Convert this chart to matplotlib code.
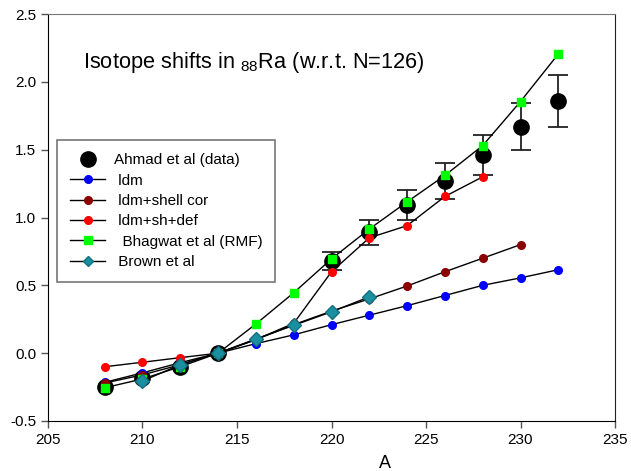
import matplotlib
matplotlib.use("Agg")
import matplotlib.pyplot as plt
from matplotlib.lines import Line2D

plt.rcParams["font.family"] = ["Liberation Sans", "DejaVu Sans"]
plt.rcParams["mathtext.fontset"] = "custom"
plt.rcParams["mathtext.rm"] = "Liberation Sans"
plt.rcParams["mathtext.it"] = "Liberation Sans"

# Ahmad et al (data)
a_data = [208, 210, 212, 214, 220, 222, 224, 226, 228, 230, 232]
y_data = [-0.25, -0.18, -0.10, 0.0, 0.68, 0.89, 1.09, 1.27, 1.46, 1.67, 1.86]
# error bars only on the heavier isotopes
a_err = [220, 222, 224, 226, 228, 230, 232]
y_err_c = [0.68, 0.89, 1.09, 1.27, 1.46, 1.67, 1.86]
err_data = [0.065, 0.095, 0.11, 0.135, 0.15, 0.175, 0.19]

# ldm
a_ldm = [208, 210, 212, 214, 216, 218, 220, 222, 224, 226, 228, 230, 232]
y_ldm = [-0.215, -0.145, -0.07, 0.0, 0.07, 0.135, 0.21, 0.28, 0.35, 0.425, 0.50, 0.555, 0.615]

# ldm+shell cor
a_shell = [208, 210, 212, 214, 216, 218, 220, 222, 224, 226, 228, 230]
y_shell = [-0.22, -0.16, -0.085, 0.0, 0.10, 0.21, 0.31, 0.40, 0.495, 0.60, 0.70, 0.80]

# ldm+sh+def
a_def = [208, 210, 212, 214, 216, 218, 220, 222, 224, 226, 228]
y_def = [-0.10, -0.067, -0.033, 0.0, 0.10, 0.22, 0.60, 0.85, 0.94, 1.155, 1.30]

# Bhagwat et al (RMF)
a_rmf = [208, 210, 212, 214, 216, 218, 220, 222, 224, 226, 228, 230, 232]
y_rmf = [-0.255, -0.19, -0.10, 0.0, 0.215, 0.445, 0.695, 0.915, 1.115, 1.31, 1.53, 1.855, 2.205]

# Brown et al
a_brown = [210, 212, 214, 216, 218, 220, 222]
y_brown = [-0.205, -0.085, 0.0, 0.105, 0.205, 0.305, 0.415]

fig = plt.figure(figsize=(6.31, 4.71), dpi=100)
ax = fig.add_axes([48 / 631, 1 - 421 / 471, 567 / 631, 407 / 471])

ax.errorbar(a_err, y_err_c, yerr=err_data, fmt="none", ecolor="#222222",
            elinewidth=1.3, capsize=7, capthick=1.3, zorder=2)
ax.plot(a_data, y_data, "o", color="black", ms=11, zorder=2)
ax.plot(a_ldm, y_ldm, "-o", color="black", lw=1, ms=5.5, mfc="#0000ff", mec="#0000ff", zorder=3)
ax.plot(a_shell, y_shell, "-o", color="black", lw=1, ms=5.5, mfc="#8b0000", mec="#8b0000", zorder=3)
ax.plot(a_def, y_def, "-o", color="black", lw=1, ms=5.5, mfc="#ff0000", mec="#ff0000", zorder=3)
ax.plot(a_rmf, y_rmf, "-s", color="black", lw=1, ms=5.5, mfc="#00ff00", mec="#00ff00", zorder=4)
ax.plot(a_brown, y_brown, "-D", color="black", lw=1, ms=7, mfc="#1a8fa0", mec="#137080", zorder=4)

ax.set_xlim(205, 235)
ax.set_ylim(-0.5, 2.5)
ax.set_xticks([205, 210, 215, 220, 225, 230, 235])
ax.set_yticks([-0.5, 0.0, 0.5, 1.0, 1.5, 2.0, 2.5])
ax.set_yticklabels(["-0.5", "0.0", "0.5", "1.0", "1.5", "2.0", "2.5"])
ax.tick_params(direction="out", length=5, width=1, color="#555555", labelsize=11)
ax.spines["top"].set_color("#777777")
ax.spines["right"].set_color("#222222")

ax.text(0.062, 0.88, "Isotope shifts in $_{88}$Ra (w.r.t. N=126)", transform=ax.transAxes,
        fontsize=15.7, va="center", ha="left")
fig.text(385 / 631, 1 - 463 / 471, "A", fontsize=13, ha="center", va="center")

handles = [
    Line2D([], [], ls="none", marker="o", color="black", ms=11),
    Line2D([], [], color="black", lw=1, marker="o", ms=5.5, mfc="#0000ff", mec="#0000ff"),
    Line2D([], [], color="black", lw=1, marker="o", ms=5.5, mfc="#8b0000", mec="#8b0000"),
    Line2D([], [], color="black", lw=1, marker="o", ms=5.5, mfc="#ff0000", mec="#ff0000"),
    Line2D([], [], color="black", lw=1, marker="s", ms=5.5, mfc="#00ff00", mec="#00ff00"),
    Line2D([], [], color="black", lw=1, marker="D", ms=5.5, mfc="#1a8fa0", mec="#137080"),
]
labels = ["Ahmad et al (data)", " ldm", " ldm+shell cor", " ldm+sh+def",
          "  Bhagwat et al (RMF)", " Brown et al"]
leg = ax.legend(handles, labels, loc="upper left", bbox_to_anchor=(0.016, 0.69),
                borderaxespad=0, fontsize=11, frameon=True, fancybox=False,
                handlelength=2.3, labelspacing=0.42, borderpad=0.85, handletextpad=0.55)
leg.get_frame().set_edgecolor("#555555")
leg.get_frame().set_linewidth(1.2)

fig.savefig("out.png", dpi=100)
